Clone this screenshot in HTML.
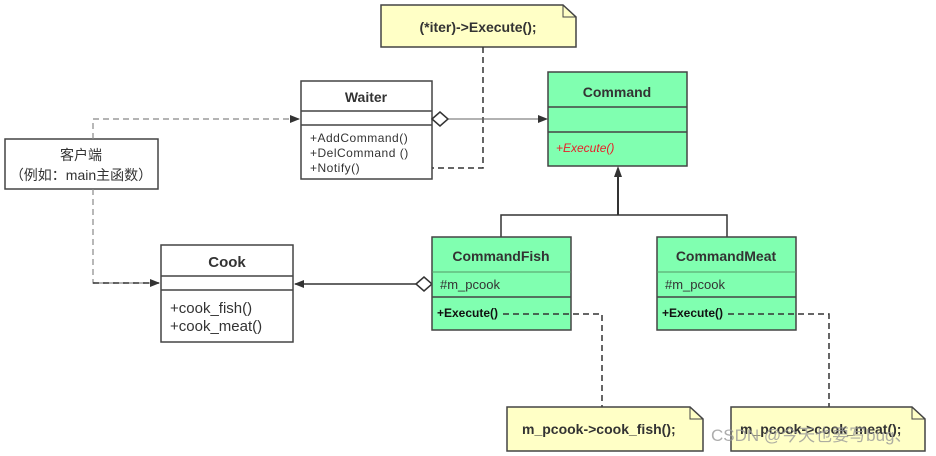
<!DOCTYPE html>
<html><head><meta charset="utf-8"><style>
html,body{margin:0;padding:0;background:#fff;width:936px;height:456px;overflow:hidden}
svg text{font-family:"Liberation Sans","Noto Sans CJK SC",sans-serif;fill:#333}
</style></head><body>
<svg width="936" height="456" viewBox="0 0 936 456" xmlns="http://www.w3.org/2000/svg">
<defs>
<marker id="ar" markerWidth="10" markerHeight="8" refX="9" refY="4" orient="auto" markerUnits="userSpaceOnUse"><path d="M0,0 L10,4 L0,8 z" fill="#333"/></marker>
</defs>
<path d="M381,5 H563 L576,17 V47 H381 Z" fill="#ffffc6" stroke="#444" stroke-width="1.5"/>
<path d="M563,5 V17 H576" fill="none" stroke="#444" stroke-width="1"/>
<text x="478" y="32" font-size="14" font-weight="bold" text-anchor="middle">(*iter)-&gt;Execute();</text>
<path d="M483,47 V168 H365" fill="none" stroke="#333" stroke-width="1.5" stroke-dasharray="6,4"/>
<rect x="301" y="81" width="131" height="98" fill="#fff" stroke="#444" stroke-width="1.5"/>
<line x1="301" y1="111" x2="432" y2="111" stroke="#444" stroke-width="1.5"/>
<line x1="301" y1="125" x2="432" y2="125" stroke="#444" stroke-width="1.5"/>
<text x="366" y="102" font-size="14" font-weight="bold" text-anchor="middle">Waiter</text>
<text x="310" y="142" font-size="12" letter-spacing="0.5">+AddCommand()</text>
<text x="310" y="157" font-size="12" letter-spacing="0.5">+DelCommand  ()</text>
<text x="310" y="172" font-size="12" letter-spacing="0.5">+Notify()</text>
<rect x="548" y="72" width="139" height="94" fill="#80ffb0" stroke="#444" stroke-width="1.5"/>
<line x1="548" y1="107" x2="687" y2="107" stroke="#444" stroke-width="1.5"/>
<line x1="548" y1="132" x2="687" y2="132" stroke="#444" stroke-width="1.5"/>
<text x="617" y="97" font-size="14" font-weight="bold" text-anchor="middle">Command</text>
<text x="556" y="152" font-size="12" font-style="italic" style="fill:#e8202a">+Execute()</text>
<line x1="448" y1="119" x2="547" y2="119" stroke="#666" stroke-width="1" marker-end="url(#ar)"/>
<path d="M432,119 L440,112 L448,119 L440,126 Z" fill="#fff" stroke="#333" stroke-width="1.5"/>
<rect x="5" y="139" width="153" height="50" fill="#fff" stroke="#444" stroke-width="1.5"/>
<text x="81" y="160" font-size="14" text-anchor="middle">客户端</text>
<text x="81" y="180" font-size="14" text-anchor="middle">（例如：main主函数）</text>
<path d="M93,139 V119 H299" fill="none" stroke="#888" stroke-width="1.2" stroke-dasharray="6,4" marker-end="url(#ar)"/>
<path d="M93,189 V283 H159" fill="none" stroke="#888" stroke-width="1.2" stroke-dasharray="6,4"/>
<path d="M93,283 H159" fill="none" stroke="#333" stroke-width="1.5" stroke-dasharray="6,4" marker-end="url(#ar)"/>
<rect x="161" y="245" width="132" height="97" fill="#fff" stroke="#444" stroke-width="1.5"/>
<line x1="161" y1="276" x2="293" y2="276" stroke="#444" stroke-width="1.5"/>
<line x1="161" y1="290" x2="293" y2="290" stroke="#444" stroke-width="1.5"/>
<text x="227" y="267" font-size="15" font-weight="bold" text-anchor="middle">Cook</text>
<text x="170" y="313" font-size="15">+cook_fish()</text>
<text x="170" y="331" font-size="15">+cook_meat()</text>
<line x1="416" y1="284" x2="295" y2="284" stroke="#333" stroke-width="1.5" marker-end="url(#ar)"/>
<path d="M416,284 L424,277 L432,284 L424,291 Z" fill="#fff" stroke="#333" stroke-width="1.5"/>
<path d="M618,215 V170" fill="none" stroke="#333" stroke-width="2"/>
<path d="M618,166 L614,177 L622,177 Z" fill="#333"/>
<path d="M501,237 V215 H727 V237" fill="none" stroke="#333" stroke-width="1.5"/>
<rect x="432" y="237" width="139" height="93" fill="#80ffb0" stroke="#444" stroke-width="1.5"/>
<line x1="432" y1="272" x2="571" y2="272" stroke="#559966" stroke-width="1"/>
<line x1="432" y1="297" x2="571" y2="297" stroke="#444" stroke-width="1.5"/>
<text x="501" y="261" font-size="14" font-weight="bold" text-anchor="middle">CommandFish</text>
<text x="440" y="289" font-size="13">#m_pcook</text>
<text x="437" y="317" font-size="12" font-weight="bold" style="fill:#111">+Execute()</text>
<rect x="657" y="237" width="139" height="93" fill="#80ffb0" stroke="#444" stroke-width="1.5"/>
<line x1="657" y1="272" x2="796" y2="272" stroke="#559966" stroke-width="1"/>
<line x1="657" y1="297" x2="796" y2="297" stroke="#444" stroke-width="1.5"/>
<text x="726" y="261" font-size="14" font-weight="bold" text-anchor="middle">CommandMeat</text>
<text x="665" y="289" font-size="13">#m_pcook</text>
<text x="662" y="317" font-size="12" font-weight="bold" style="fill:#111">+Execute()</text>
<path d="M503,314 H602 V407" fill="none" stroke="#333" stroke-width="1.5" stroke-dasharray="6,4"/>
<path d="M728,314 H829 V407" fill="none" stroke="#333" stroke-width="1.5" stroke-dasharray="6,4"/>
<path d="M507,407 H690 L703,419 V451 H507 Z" fill="#ffffc6" stroke="#444" stroke-width="1.5"/>
<path d="M690,407 V419 H703" fill="none" stroke="#444" stroke-width="1"/>
<text x="522" y="434" font-size="14" font-weight="bold">m_pcook-&gt;cook_fish();</text>
<path d="M731,407 H912 L925,419 V451 H731 Z" fill="#ffffc6" stroke="#444" stroke-width="1.5"/>
<path d="M912,407 V419 H925" fill="none" stroke="#444" stroke-width="1"/>
<text x="740" y="434" font-size="14" font-weight="bold">m_pcook-&gt;cook_meat();</text>
<text x="711" y="441" font-size="17" style="fill:#999;opacity:0.8">CSDN @今天也要写bug、</text>
</svg>
</body></html>
